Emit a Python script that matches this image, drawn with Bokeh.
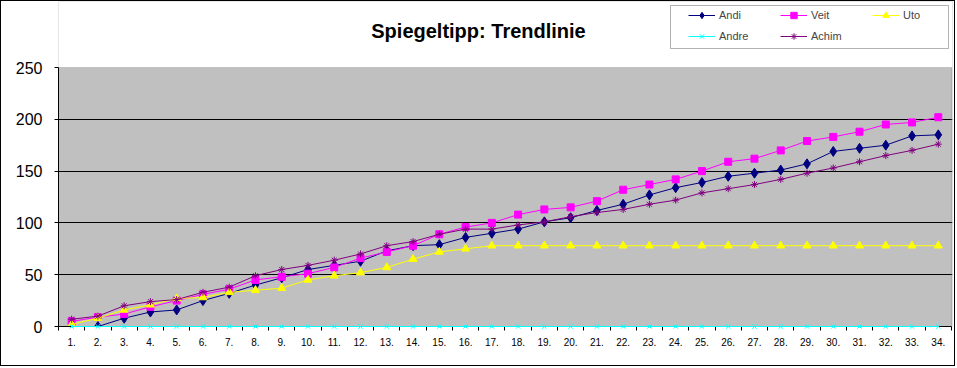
from bokeh.plotting import figure
from bokeh.models import Range1d, FixedTicker, Legend, LegendItem, BoxAnnotation, Label
from bokeh.embed import file_html
from bokeh.resources import INLINE

categories = ["1.", "2.", "3.", "4.", "5.", "6.", "7.", "8.", "9.", "10.",
              "11.", "12.", "13.", "14.", "15.", "16.", "17.", "18.", "19.", "20.",
              "21.", "22.", "23.", "24.", "25.", "26.", "27.", "28.", "29.", "30.",
              "31.", "32.", "33.", "34."]

andi = [0, 0, 8, 14, 16, 25, 32, 40, 47, 55, 59, 63, 73, 78, 79, 86, 90, 94, 101, 105,
        112, 118, 127, 134, 139, 145, 148, 151, 157, 169, 172, 175, 184, 185]
veit = [5, 9, 12, 19, 25, 31, 36, 45, 48, 51, 57, 66, 72, 78, 89, 96, 100, 108, 113, 115,
        121, 132, 137, 142, 150, 159, 162, 170, 179, 183, 188, 195, 197, 202]
uto = [2, 8, 16, 21, 27, 28, 33, 35, 37, 45, 49, 52, 57, 65, 72, 75, 78, 78, 78, 78,
       78, 78, 78, 78, 78, 78, 78, 78, 78, 78, 78, 78, 78, 78]
andre = [0, 0, 0, 0, 0, 0, 0, 0, 0, 0, 0, 0, 0, 0, 0, 0, 0, 0, 0, 0,
         0, 0, 0, 0, 0, 0, 0, 0, 0, 0, 0, 0, 0, 0]
achim = [7, 10, 20, 24, 26, 33, 38, 49, 55, 59, 64, 70, 78, 82, 89, 94, 94, 98, 101, 106,
         110, 113, 118, 122, 129, 133, 137, 142, 148, 153, 159, 165, 170, 176]

y_ticks = [0, 50, 100, 150, 200, 250]
grid_ticks = [50, 100, 150, 200]
Y_MAX = 250

series = [
    ("Andi", andi, "#000080", "diamond", 10),
    ("Veit", veit, "#FF00FF", "square", 7),
    ("Uto", uto, "#FFFF00", "triangle", 8),
    ("Andre", andre, "#00FFFF", "x", 6),
    ("Achim", achim, "#800080", "asterisk", 7),
]
# legend is filled column by column: this order gives rows Andi/Veit/Uto, Andre/Achim
legend_order = ["Andi", "Andre", "Veit", "Achim", "Uto"]

n = len(categories)
x = list(range(1, n + 1))

FONT = "Liberation Sans"

FRAME_H = 325
PLOT_H = 259
y_top = Y_MAX * FRAME_H / PLOT_H
x_end = n + 0.5 + 0.04

p = figure(width=955, height=366, output_backend="svg", toolbar_location=None,
           title_location=None,
           x_range=Range1d(0.5, x_end), y_range=Range1d(0, y_top),
           min_border_left=57, min_border_right=4, min_border_top=0, min_border_bottom=41)
p.background_fill_color = "#C0C0C0"
p.border_fill_color = "white"
p.outline_line_color = None
p.styles = {"border": "1px solid black"}

top_white = BoxAnnotation(bottom=Y_MAX, fill_color="white", fill_alpha=1,
                          line_color=None, level="underlay")
p.add_layout(top_white)
plot_border = BoxAnnotation(left=0.5, right=n + 0.5, bottom=0, top=Y_MAX,
                            fill_alpha=0, line_color="#808080", line_width=1,
                            level="underlay")
p.add_layout(plot_border)

# x axis
p.xaxis.ticker = FixedTicker(ticks=x, minor_ticks=[i + 0.5 for i in range(0, n + 1)])
p.xaxis.major_label_overrides = {i: c for i, c in zip(x, categories)}
p.xaxis.bounds = (0.5, n + 0.5)
p.xaxis.major_tick_out = 0
p.xaxis.major_tick_in = 0
p.xaxis.minor_tick_out = 4
p.xaxis.minor_tick_in = 0
p.xaxis.minor_tick_line_color = "black"
p.xaxis.axis_line_color = "black"
p.xaxis.major_label_text_font = FONT
p.xaxis.major_label_text_font_size = "10px"
p.xaxis.major_label_text_color = "black"
p.xaxis.major_label_standoff = 7

# y axis
p.yaxis.ticker = FixedTicker(ticks=y_ticks)
p.yaxis.bounds = (0, Y_MAX)
p.yaxis.major_tick_out = 4
p.yaxis.major_tick_in = 0
p.yaxis.minor_tick_line_color = None
p.yaxis.axis_line_color = "black"
p.yaxis.major_label_text_font = FONT
p.yaxis.major_label_text_font_size = "16px"
p.yaxis.major_label_text_color = "black"
p.yaxis.major_label_standoff = 12

p.xgrid.visible = False
p.ygrid.ticker = FixedTicker(ticks=grid_ticks)
p.ygrid.grid_line_color = "black"
p.ygrid.grid_line_width = 1

item_map = {}
for name, vals, color, marker, size in series:
    lvl = "overlay" if name == "Andre" else "glyph"
    r1 = p.line(x, vals, line_color=color, line_width=1, level=lvl)
    r2 = p.scatter(x, vals, marker=marker, size=size, fill_color=color,
                   line_color=color, line_width=1, level=lvl)
    item_map[name] = LegendItem(label=name, renderers=[r1, r2])

title = Label(text="Spiegeltipp: Trendlinie", x=420, y=296,
              x_units="screen", y_units="screen",
              text_align="center", text_baseline="alphabetic",
              text_font=FONT, text_font_style="bold", text_font_size="20px",
              text_color="black")
p.add_layout(title)

# legend frame
legend_box = BoxAnnotation(left=612, right=890, bottom=278, top=321,
                           left_units="screen", right_units="screen",
                           bottom_units="screen", top_units="screen",
                           fill_color="white", fill_alpha=1,
                           line_color="black", line_width=1)
p.add_layout(legend_box)

legend = Legend(items=[item_map[k] for k in legend_order], ncols=3,
                location=(630, 282),
                glyph_width=27, glyph_height=16, label_height=16, label_width=56,
                label_standoff=4, spacing=5, padding=0, margin=0,
                label_text_font=FONT, label_text_font_size="11px",
                border_line_color=None, background_fill_alpha=0)
p.add_layout(legend, "center")

open("out.html", "w").write(file_html(p, INLINE))
